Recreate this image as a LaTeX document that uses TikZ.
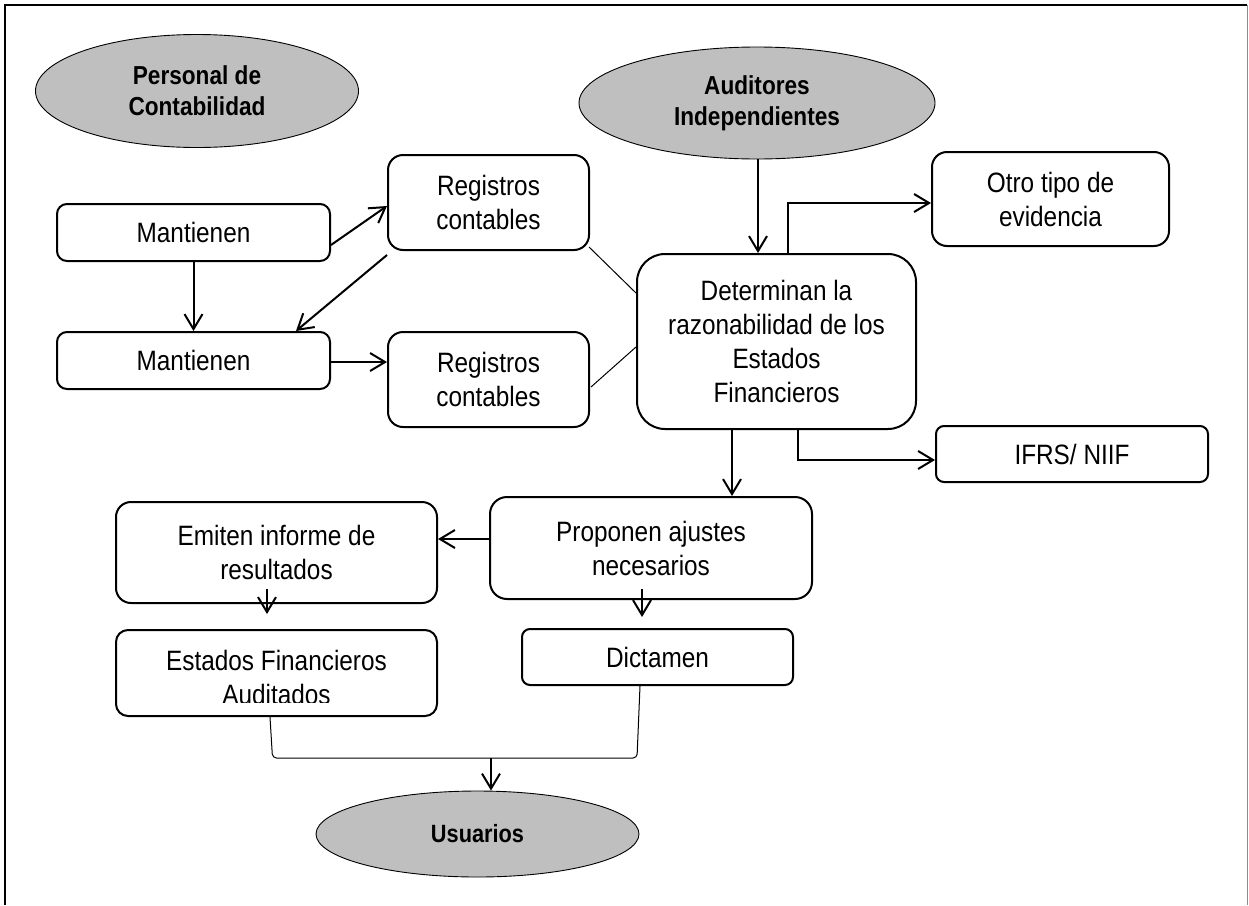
\documentclass[tikz,border=0pt]{standalone}
\usepackage{fontspec}
\setmainfont{Liberation Sans}[FakeStretch=0.87]
\usetikzlibrary{arrows.meta,shapes.geometric}

\tikzset{
  box/.style={draw=black, line width=2pt, fill=white, rounded corners=#1,
    align=center, inner sep=0pt, font=\fontsize{28}{34}\selectfont},
  box/.default=12pt,
  actor/.style={ellipse, draw=black, line width=0.9pt, fill=black!25,
    align=center, inner sep=0pt, font=\fontsize{26}{31}\selectfont\bfseries},
  arr/.style={line width=2pt, -{Straight Barb[length=15pt,width=18pt,line width=2pt]}},
  thin/.style={line width=1pt},
}

\begin{document}
\begin{tikzpicture}[x=1pt, y=-1pt]
\useasboundingbox (0,0) rectangle (1249,905);

% page frame
\draw[line width=2.5pt] (5,905) -- (5,5) -- (1247,5);
\draw[line width=1.5pt, black!45] (1247.5,5) -- (1247.5,905);

% actors
\node[actor, minimum width=323pt, minimum height=113pt] (pers) at (197,91) {Personal de\\Contabilidad};
\node[actor, minimum width=356pt, minimum height=112pt] (aud) at (757,103) {Auditores\\Independientes};
\node[actor, minimum width=323pt, minimum height=86pt, font=\fontsize{25}{30}\selectfont\bfseries] (usu) at (477.5,834) {Usuarios};

% process boxes
\node[box=10pt, minimum width=273pt, minimum height=57pt] (man1) at (193.5,232.5) {Mantienen};
\node[box=10pt, minimum width=273pt, minimum height=57pt] (man2) at (193.5,360.5) {Mantienen};
\node[box=15pt, minimum width=201pt, minimum height=95pt] (reg1) at (488.5,202.5) {Registros\\contables};
\node[box=15pt, minimum width=201pt, minimum height=95pt] (reg2) at (488.5,379.5) {Registros\\contables};
\node[box=28pt, minimum width=279pt, minimum height=175pt] (det) at (776.5,341.5) {Determinan la\\razonabilidad de los\\Estados\\Financieros};
\node[box=15pt, minimum width=237pt, minimum height=94pt] (otro) at (1050.5,199) {Otro tipo de\\evidencia};
\node[box=8pt, minimum width=272pt, minimum height=56pt] (ifrs) at (1072,454) {IFRS/ NIIF};
\node[box=17pt, minimum width=322pt, minimum height=102pt] (prop) at (651,548) {Proponen ajustes\\necesarios};
\node[box=15pt, minimum width=321pt, minimum height=101pt] (emit) at (276.5,552.5) {Emiten informe de\\resultados};
\node[box=12pt, minimum width=321pt, minimum height=86pt] (est) at (276.5,673) {};
\node[box=8pt, minimum width=271pt, minimum height=56pt] (dict) at (657.5,657) {Dictamen};

% the second line of this label runs past the box frame and is cut off
\begin{scope}
  \clip (116,631) rectangle (437,702);
  \node[align=center, inner sep=0pt, font=\fontsize{28}{34}\selectfont, anchor=north] (esttext) at (276.5,650) {Estados Financieros\\Auditados};
\end{scope}

% accounting side
\draw[arr] ([yshift=-12.5pt]man1.east) -- ([yshift=-3.5pt]reg1.west);
\draw[arr] (man1.south) -- (man2.north);
\draw[arr] ([yshift=-4pt]reg1.south west) -- ([xshift=102.5pt]man2.north);
\draw[arr] ([yshift=-1.5pt]man2.east) -- ([yshift=-1.5pt]man2.east -| reg2.west);

% records examined by the auditors
\draw[thin] ([xshift=-1pt,yshift=4pt]reg1.south east) -- ([yshift=48.5pt]det.west);
\draw[thin] ([xshift=1pt,yshift=-7.5pt]reg2.east) -- ([yshift=-5.5pt]det.west);

% auditor side
\draw[arr] ([xshift=1pt]aud.south) -- ([xshift=1pt]aud.south |- det.north);
\draw[arr] ([xshift=11.5pt]det.north) |- ([yshift=-4pt]otro.west);
\draw[arr] ([xshift=21.5pt]det.south) |- ([yshift=-6pt]ifrs.west);
\draw[arr] ([xshift=-44.5pt]det.south) -- ([xshift=-44.5pt]det.south |- prop.north);
\draw[arr] ([yshift=9pt]prop.west) -- ([yshift=9pt]prop.west -| emit.east);
\draw[arr] ([xshift=-9.5pt,yshift=15pt]emit.south) -- ([xshift=-9.5pt,yshift=15pt]emit.south |- est.north);
\draw[arr] ([xshift=-9pt,yshift=11pt]prop.south) -- ([xshift=-9pt,yshift=11pt]prop.south |- dict.north);

% both outputs reach the users
\coordinate (join) at (491,758);
\draw[thin, rounded corners=4pt] ([xshift=-6.5pt]est.south) -- (272.5,758) -- (637,758) -- ([xshift=-17.5pt]dict.south);
\draw[arr] (join) -- (join |- usu.north);
\end{tikzpicture}
\end{document}
